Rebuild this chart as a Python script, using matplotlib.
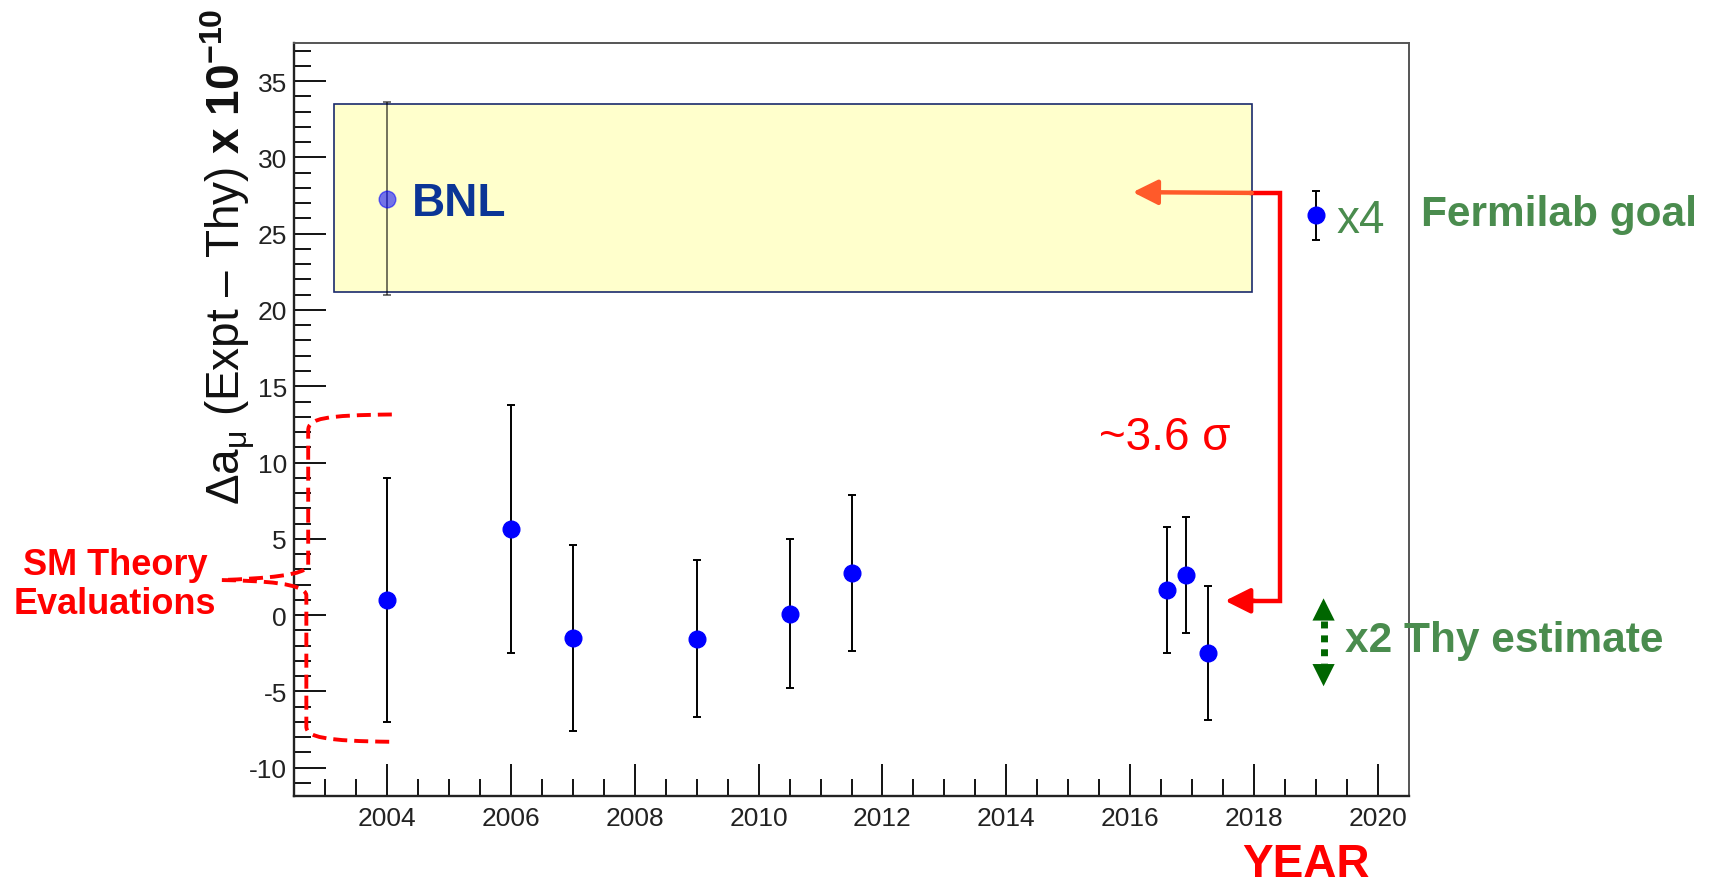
import matplotlib
matplotlib.use("Agg")
import matplotlib.pyplot as plt
from matplotlib.path import Path
from matplotlib.patches import PathPatch, Rectangle

plt.rcParams['font.family'] = ['Liberation Sans', 'DejaVu Sans']
plt.rcParams['axes.unicode_minus'] = False
plt.rcParams['mathtext.fontset'] = 'custom'
plt.rcParams['mathtext.rm'] = 'Liberation Sans'
plt.rcParams['mathtext.it'] = 'Liberation Sans:italic'
plt.rcParams['mathtext.bf'] = 'Liberation Sans:bold'

# Theory evaluations (Delta a_mu in units of 1e-10)
years = [2004, 2006, 2007, 2009, 2010.5, 2011.5, 2016.6, 2016.9, 2017.25]
delta = [1.0, 5.65, -1.5, -1.55, 0.1, 2.75, 1.65, 2.65, -2.5]
errors = [8.0, 8.1, 6.1, 5.15, 4.9, 5.1, 4.15, 3.8, 4.4]

# BNL measurement and the Fermilab goal point
bnl_year, bnl_val, bnl_err = 2004, 27.3, 6.3
fnal_year, fnal_val, fnal_err = 2019, 26.2, 1.6

# BNL band
band_x = [2003.14, 2017.96]
band_y = [21.2, 33.5]

xticks = [2004, 2006, 2008, 2010, 2012, 2014, 2016, 2018, 2020]
yticks = [-10, -5, 0, 5, 10, 15, 20, 25, 30, 35]

RED = '#ff0000'
GREEN = '#4a8c4e'
DKGREEN = '#006600'

fig = plt.figure(figsize=(17.19, 8.87), dpi=100)
ax = fig.add_axes([0.171, 0.1015, 0.6487, 0.849])

# yellow BNL box
ax.add_patch(Rectangle((band_x[0], band_y[0]), band_x[1] - band_x[0], band_y[1] - band_y[0],
                       facecolor='#ffffcc', edgecolor='#1a2a6c', lw=1.2, zorder=1))

ax.errorbar([bnl_year], [bnl_val], yerr=[bnl_err], fmt='o', color='blue', ms=12,
            ecolor='black', elinewidth=1.4, capsize=3, capthick=1.4, alpha=0.55, zorder=2)
ax.errorbar(years, delta, yerr=errors, fmt='o', color='blue', ms=12,
            ecolor='black', elinewidth=1.4, capsize=3, capthick=1.4, zorder=3)
ax.errorbar([fnal_year], [fnal_val], yerr=[fnal_err], fmt='o', color='blue', ms=12,
            ecolor='black', elinewidth=1.4, capsize=3, capthick=1.4, zorder=3)

ax.set_xlim(2002.5, 2020.5)
ax.set_ylim(-11.85, 37.5)
ax.set_xticks(xticks)
ax.set_xticklabels([str(y) for y in xticks])
ax.set_xticks([y + 0.5 * k for y in range(2002, 2021) for k in (0, 1)
               if 2002.5 < y + 0.5 * k < 2020.5 and (y + 0.5 * k) not in xticks], minor=True)
ax.set_yticks(yticks)
ax.set_yticks([v for v in range(-11, 38) if v % 5 != 0], minor=True)
ax.tick_params(axis='both', which='both', direction='in', top=False, right=False,
               labelsize=19, labelcolor='#222222', width=1.3)
ax.tick_params(axis='both', which='major', length=23)
ax.tick_params(axis='both', which='minor', length=12)
ax.tick_params(axis='x', pad=7)
ax.tick_params(axis='y', pad=5)
for side in ['left', 'bottom']:
    ax.spines[side].set_linewidth(1.7)
    ax.spines[side].set_color('#222222')
for side in ['top', 'right']:
    ax.spines[side].set_linewidth(1.4)
    ax.spines[side].set_color('#555555')

# y axis title
fig.text(0.133, 0.71, r"$\Delta\mathrm{a}_{\mathrm{μ}}$ (Expt – Thy) $\mathbf{x\ 10^{-10}}$",
         rotation=90, ha='center', va='center', fontsize=33, color='#111111')

# 3.6 sigma connector
corner_x = 2018.41
ax.plot([band_x[1], corner_x, corner_x, 2017.9], [27.67, 27.67, 0.94, 0.94],
        color=RED, lw=3.2, solid_joinstyle='miter', zorder=4)
ax.annotate('', xy=(2016.04, 27.72), xytext=(band_x[1], 27.67),
            arrowprops=dict(arrowstyle='-|>', color='#ff5a2a', lw=3.2,
                            mutation_scale=38, shrinkA=0, shrinkB=0), zorder=4)
ax.annotate('', xy=(2017.53, 0.94), xytext=(2018.0, 0.94),
            arrowprops=dict(arrowstyle='-|>', color=RED, lw=3.2,
                            mutation_scale=38, shrinkA=0, shrinkB=0), zorder=4)
ax.text(2015.5, 11.67, '~3.6 σ', color=RED, fontsize=33, ha='left', va='center')

# x2 theory double arrow
gx, g_top, g_bot = 2019.12, 1.1, -4.66
ax.plot([gx, gx], [g_top - 1.5, g_bot + 1.5], color=DKGREEN, lw=5,
        ls=(0, (1, 1)), clip_on=False)
for tip, base in [(g_top, g_top - 1.6), (g_bot, g_bot + 1.6)]:
    ax.annotate('', xy=(gx, tip), xytext=(gx, base), annotation_clip=False,
                arrowprops=dict(arrowstyle='-|>', color=DKGREEN, lw=0,
                                mutation_scale=40, shrinkA=0, shrinkB=0))

ax.text(2004.4, 27.0, 'BNL', color='#0b3596', fontsize=33, fontweight='bold',
        ha='left', va='center', zorder=5)
ax.text(2019.33, 25.87, 'x4', color=GREEN, fontsize=33, ha='left', va='center')
ax.text(2020.7, 26.3, 'Fermilab goal', color=GREEN, fontsize=30.5, fontweight='bold',
        ha='left', va='center', clip_on=False)
ax.text(2019.47, -1.66, 'x2 Thy estimate', color=GREEN, fontsize=30.5, fontweight='bold',
        ha='left', va='center', clip_on=False)

# brace around the SM theory values
verts = [(2004.08, 13.15),
         (2003.0, 13.1), (2002.73, 12.9), (2002.73, 12.1),
         (2002.73, 3.3),
         (2002.73, 2.6), (2002.0, 2.4), (2001.33, 2.3),
         (2002.0, 2.25), (2002.68, 2.1), (2002.7, 1.3),
         (2002.7, -7.3),
         (2002.7, -8.0), (2003.0, -8.25), (2004.08, -8.3)]
codes = [Path.MOVETO,
         Path.CURVE4, Path.CURVE4, Path.CURVE4,
         Path.LINETO,
         Path.CURVE4, Path.CURVE4, Path.CURVE4,
         Path.CURVE4, Path.CURVE4, Path.CURVE4,
         Path.LINETO,
         Path.CURVE4, Path.CURVE4, Path.CURVE4]
ax.add_patch(PathPatch(Path(verts, codes), fill=False, edgecolor=RED, lw=2.8,
                       ls=(0, (3.6, 1.8)), clip_on=False, zorder=4))
fig.text(0.067, 0.340, 'SM Theory\nEvaluations', color=RED, fontsize=26,
         fontweight='bold', ha='center', va='center', linespacing=1.15)

fig.text(0.760, 0.011, 'YEAR', color=RED, fontsize=33, fontweight='bold',
         ha='center', va='baseline')

fig.savefig('out.png', dpi=100, facecolor='white')
